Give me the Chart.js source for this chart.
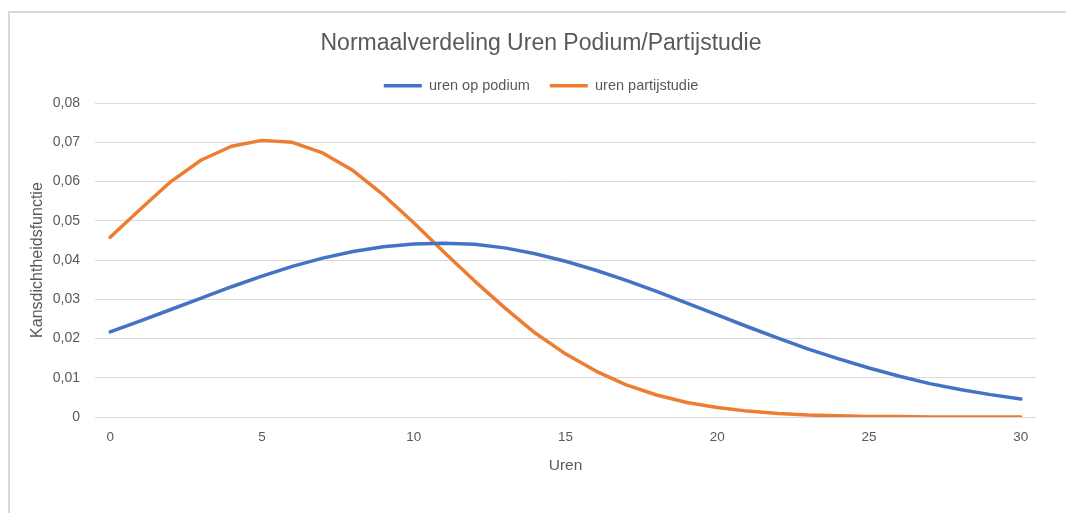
<!DOCTYPE html>
<html>
<head>
<meta charset="utf-8">
<script src="https://cdn.jsdelivr.net/npm/chart.js@4.4.1/dist/chart.umd.min.js"></script>
<style>
  html, body { margin: 0; padding: 0; background: #fff; overflow: hidden; width: 1066px; height: 513px; }
  #frame { position: absolute; left: 8px; top: 11px; width: 1070px; height: 520px;
           border-left: 2px solid #d9d9d9; border-top: 2px solid #d9d9d9; }
  #wrap { position: absolute; left: 0; top: 0; width: 1082px; height: 513px; }
</style>
</head>
<body>
<div id="frame"></div>
<div id="wrap"><canvas id="c" width="1082" height="513"></canvas></div>
<script>
const hours = [0,1,2,3,4,5,6,7,8,9,10,11,12,13,14,15,16,17,18,19,20,21,22,23,24,25,26,27,28,29,30];
const podium = [0.0217,0.0245,0.0274,0.0303,0.0332,0.0359,0.0384,0.0405,0.0422,0.0434,0.0441,0.0443,0.0440,0.0431,0.0416,0.0397,0.0374,0.0348,0.0320,0.0290,0.0260,0.0230,0.0201,0.0173,0.0148,0.0125,0.0104,0.0085,0.0070,0.0057,0.0046];
const partijstudie = [0.0458,0.0530,0.0600,0.0655,0.0690,0.0705,0.0700,0.0673,0.0628,0.0566,0.0495,0.0420,0.0347,0.0278,0.0214,0.0161,0.0117,0.0082,0.0056,0.0037,0.0024,0.0015,0.0009,0.0005,0.0003,0.0001,0.0001,0,0,0,0];
const xTicks = [0,5,10,15,20,25,30];
const yTicks = [0,0.01,0.02,0.03,0.04,0.05,0.06,0.07,0.08];
const seriesNames = ['uren op podium','uren partijstudie'];
const titleText = 'Normaalverdeling Uren Podium/Partijstudie';
const xTitle = 'Uren';
const yTitle = 'Kansdichtheidsfunctie';

const FONT = "'Liberation Sans', Arial, sans-serif";
const GREY = '#595959';

function pts(ys) { return hours.map((h, i) => ({x: h, y: ys[i]})); }

new Chart(document.getElementById('c'), {
  type: 'line',
  data: {
    datasets: [
      { label: seriesNames[0], data: pts(podium), borderColor: '#4472C4', backgroundColor: '#4472C4',
        borderWidth: 3.5, pointRadius: 0, tension: 0, borderCapStyle: 'round', borderJoinStyle: 'round' },
      { label: seriesNames[1], data: pts(partijstudie), borderColor: '#ED7D31', backgroundColor: '#ED7D31',
        borderWidth: 3.5, pointRadius: 0, tension: 0, borderCapStyle: 'round', borderJoinStyle: 'round' }
    ]
  },
  options: {
    responsive: false,
    animation: false,
    layout: { padding: { left: 0, right: 0, top: 0, bottom: 0 } },
    plugins: {
      title: { display: true, text: titleText, color: GREY,
               font: { family: FONT, size: 23, weight: 'normal' }, padding: { top: 30, bottom: 1 } },
      legend: { display: true, position: 'top',
                labels: { color: GREY, font: { family: FONT, size: 14.5 }, usePointStyle: true, pointStyle: 'line',
                          pointStyleWidth: 38, padding: 20 } },
      tooltip: { enabled: false }
    },
    scales: {
      x: {
        type: 'linear', min: -0.5, max: 30.5,
        afterBuildTicks: s => { s.ticks = xTicks.map(v => ({value: v})); },
        afterFit: s => { s.height = 96; },
        grid: { display: false, drawTicks: false },
        border: { display: false },
        ticks: { color: GREY, font: { family: FONT, size: 13.5 }, padding: 12, maxRotation: 0 },
        title: { display: true, text: xTitle, color: GREY, font: { family: FONT, size: 15.5 }, padding: { top: 0, bottom: 38 } }
      },
      y: {
        min: 0, max: 0.08,
        afterBuildTicks: s => { s.ticks = yTicks.map(v => ({value: v})); },
        afterFit: s => { s.width = 95; },
        grid: { color: '#d9d9d9', lineWidth: 1, drawTicks: false },
        border: { display: false },
        ticks: { color: GREY, font: { family: FONT, size: 14 }, padding: 15,
                 callback: v => v === 0 ? '0' : v.toFixed(2).replace('.', ',') },
        title: { display: true, text: yTitle, color: GREY, font: { family: FONT, size: 16 }, padding: { top: 28, bottom: 0 } }
      },
      rightSpace: {
        type: 'linear', position: 'right', display: true,
        afterFit: s => { s.width = 46; },
        grid: { display: false, drawTicks: false },
        border: { display: false },
        ticks: { display: false }
      }
    }
  }
});
</script>
</body>
</html>
